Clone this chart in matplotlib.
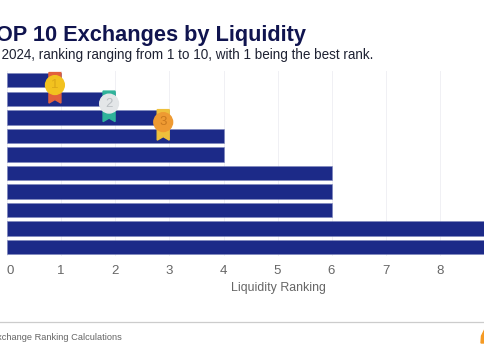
import matplotlib
matplotlib.use("Agg")
import matplotlib.pyplot as plt
from matplotlib.patches import Polygon, Circle
from matplotlib.transforms import IdentityTransform

plt.rcParams['font.family'] = ['Liberation Sans', 'DejaVu Sans']

ranks = [1, 2, 3, 4, 4, 6, 6, 6, 9, 9]
ticks = [0, 1, 2, 3, 4, 5, 6, 7, 8]
medal_labels = ['1', '2', '3']
medal_disc = ['#f2c21f', '#e3e6e8', '#ee9a32']
medal_ribbon = ['#e2603c', '#2fb39a', '#eec03c']
medal_text = ['#dca818', '#b9bec2', '#c9791f']

W, H = 485, 360
fig = plt.figure(figsize=(W/100, H/100), dpi=100, facecolor='white')
L, T, B = 7, 71, 256.3
ax = fig.add_axes([L/W, 1-B/H, 1-L/W, (B-T)/H])
n = len(ranks)
ax.barh(range(n), ranks, height=0.78, color='#1c2a88', edgecolor='#7d86bd', linewidth=0.4, zorder=2)
ax.set_xlim(0, (W-L)/54.15)
ax.set_ylim(n-0.5, -0.5)
ax.set_xticks(ticks)
ax.set_xticklabels([])
ax.set_yticks([])
ax.grid(axis='x', color='#f0f0f4', linewidth=0.7, zorder=0)
ax.tick_params(length=0)
for s in ax.spines.values():
    s.set_visible(False)

fig.canvas.draw()
px = IdentityTransform()
for i, lab in enumerate(medal_labels):
    cx, cy = ax.transData.transform((ranks[i]-0.115, i))
    cy -= 4.8
    rib = [(cx-6, cy+12.5), (cx+6, cy+12.5), (cx+6, cy-18), (cx, cy-14.5), (cx-6, cy-18)]
    fig.add_artist(Polygon(rib, closed=True, transform=px, color=medal_ribbon[i], zorder=5))
    fig.add_artist(Circle((cx, cy), 9.4, transform=px, color=medal_disc[i], zorder=6))
    fig.text(cx/W, cy/H, lab, color=medal_text[i], fontsize=9.5, ha='center', va='center', zorder=7)

for t in ticks:
    x = ax.transData.transform((t, 0))[0]
    if t == 0:
        x += 3.5
    fig.text((x-0.5)/W, 1-270.5/H, str(t), color='#666666', fontsize=9.5, ha='center', va='center')
fig.text(278/W, 1-288.5/H, 'Liquidity Ranking', color='#666666', fontsize=8.95, ha='center', va='center')

fig.text(306/W, 1-35.5/H, 'TOP 10 Exchanges by Liquidity', color='#10144f', fontsize=15.7,
         fontweight='bold', ha='right', va='center')
fig.text(373.5/W, 1-55/H, 'Q2 2024, ranking ranging from 1 to 10, with 1 being the best rank.',
         color='#1e2233', fontsize=9.75, ha='right', va='center')
fig.text(122/W, 1-338/H, 'Exchange Ranking Calculations', color='#666666', fontsize=6.7,
         ha='right', va='center')
fig.add_artist(plt.Line2D([0, 1], [1-321.5/H]*2, color='#cccccc', linewidth=0.9))
flame = [(481, 360-343), (481.5, 360-336), (485, 360-329), (485, 360-343)]
fig.add_artist(Polygon(flame, closed=True, transform=px, color='#f59a23', zorder=5))

fig.savefig('out.png', dpi=100)
